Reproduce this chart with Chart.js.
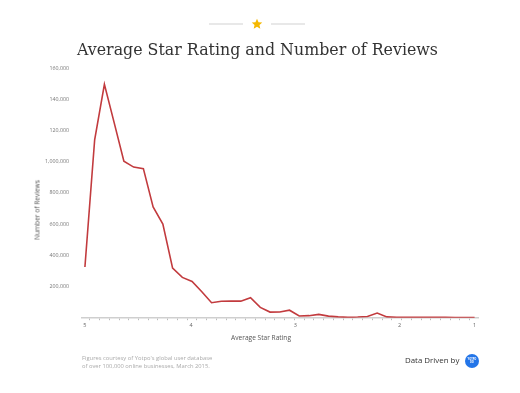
<!DOCTYPE html>
<html>
<head>
<meta charset="utf-8">
<script src="https://cdn.jsdelivr.net/npm/chart.js@4/dist/chart.umd.min.js"></script>
<style>
  html, body { margin: 0; padding: 0; background: #fff; }
  body { width: 520px; height: 393px; position: relative; overflow: hidden; font-family: "Open Sans", sans-serif; }
  #wrap { position: absolute; left: 0; top: 0; width: 520px; height: 393px; }
  .abs { position: absolute; white-space: nowrap; }
  #title { font-family: "DejaVu Serif", serif; font-size: 17px; color: #333; top: 39px; left: 77px; transform-origin: 0 0; }
  .rule { position: absolute; height: 2px; background: #e8e8e8; top: 23px; }
  #star { left: 251px; top: 18px; width: 12px; height: 12px; }
  #ytitle { font-size: 6.6px; color: #555; left: 37px; top: 210px; transform: translate(-50%, -50%) rotate(-90deg); }
  #xtitle { font-size: 6.6px; color: #555; left: 261px; top: 337px; transform: translate(-50%, -50%); }
  #foot { font-size: 5.8px; color: #aaa; left: 82px; top: 354px; line-height: 8.4px; }
  #dd { font-size: 7.9px; color: #333; left: 405px; top: 355px; }
  #logo { left: 465px; top: 354px; width: 14px; height: 14px; border-radius: 50%; background: #2375e8; color: #fff; font-size: 2.6px; line-height: 3px; text-align: center; font-weight: bold; }
</style>
</head>
<body>
<div id="wrap"><canvas id="c" width="520" height="393"></canvas></div>
<div class="rule" style="left:209px;width:34px;"></div>
<div class="rule" style="left:271px;width:34px;"></div>
<svg id="star" class="abs" viewBox="0 0 24 24"><path fill="#f5b800" d="M12 1.5l3.1 6.9 7.4.7-5.6 5 1.7 7.4L12 17.6l-6.6 3.9 1.7-7.4-5.6-5 7.4-.7z"/></svg>
<div id="title" class="abs">Average Star Rating and Number of Reviews</div>
<div id="ytitle" class="abs">Number of Reviews</div>
<div id="xtitle" class="abs">Average Star Rating</div>
<div id="foot" class="abs">Figures courtesy of Yotpo's global user database<br>of over 100,000 online businesses, March 2015.</div>
<div id="dd" class="abs">Data Driven by</div>
<div id="logo" class="abs"><div style="padding-top:4px">YOTPO<br>DD</div></div>
<script>
// ---- data ----
const reviewCounts = [
  325000, 1140000, 1495000, 1250000, 1003000, 965000, 955000, 710000, 600000, 318000,
  258000, 232000, 166000, 96000, 105000, 106000, 106000, 128000, 66000, 36000,
  37000, 48000, 11000, 13000, 21000, 10000, 5000, 2000, 4000, 8000,
  30000, 5000, 3000, 3000, 2500, 2000, 2000, 2000, 1500, 1500, 1500
];
const ratingLabels = ['5', '4', '3', '2', '1'];
const ratingLabelIndex = [0, 10.9, 21.6, 32.3, 40];
const yTickValues = [200000, 400000, 600000, 800000, 1000000, 1200000, 1400000, 1600000];
const yTickLabels = ['200,000', '400,000', '600,000', '800,000', '1,000,000', '120,000', '140,000', '160,000'];

// fit title width
(function () {
  const t = document.getElementById('title');
  const w = t.getBoundingClientRect().width;
  const target = 361;
  t.style.transform = 'scaleX(' + (target / w) + ')';
})();

const points = reviewCounts.map((v, i) => ({ x: i, y: v }));

new Chart(document.getElementById('c'), {
  type: 'line',
  data: {
    datasets: [{
      data: points,
      borderColor: '#c23b3e',
      borderWidth: 1.6,
      pointRadius: 0,
      tension: 0,
      fill: false
    }]
  },
  options: {
    responsive: false,
    animation: false,
    events: [],
    layout: { padding: { top: 68, right: 42, left: 0, bottom: 0 } },
    plugins: { legend: { display: false }, tooltip: { enabled: false } },
    scales: {
      x: {
        type: 'linear',
        min: -0.3,
        max: 40.35,
        afterBuildTicks: (s) => {
          const t = ratingLabelIndex.map(v => ({ value: v }));
          for (let k = 0; k < reviewCounts.length - 1; k++) t.push({ value: k + 0.5 });
          t.sort((a, b) => a.value - b.value);
          s.ticks = t;
        },
        afterFit: (s) => { s.height = 75.3; },
        grid: {
          display: true,
          drawOnChartArea: false,
          drawTicks: true,
          tickLength: 2.5,
          tickWidth: 0.8,
          tickColor: (ctx) => {
            const v = ctx.tick ? ctx.tick.value : null;
            return ratingLabelIndex.includes(v) ? 'rgba(0,0,0,0)' : '#aaa';
          }
        },
        border: { display: true, color: '#cfcfcf', width: 1.5 },
        ticks: {
          autoSkip: false,
          maxRotation: 0,
          padding: 2,
          font: { family: 'Open Sans', size: 5.5 },
          color: '#666',
          callback: (value) => {
            const i = ratingLabelIndex.indexOf(value);
            return i >= 0 ? ratingLabels[i] : '';
          }
        }
      },
      y: {
        type: 'linear',
        min: 0,
        max: 1600000,
        afterBuildTicks: (s) => { s.ticks = yTickValues.map(v => ({ value: v })); },
        afterFit: (s) => { s.width = 82; },
        grid: { display: false },
        border: { display: false },
        ticks: {
          padding: 5,
          font: { family: 'Open Sans', size: 5.3 },
          color: '#777',
          callback: (value) => {
            const i = yTickValues.indexOf(value);
            return i >= 0 ? yTickLabels[i] : '';
          }
        }
      }
    }
  }
});
</script>
</body>
</html>
